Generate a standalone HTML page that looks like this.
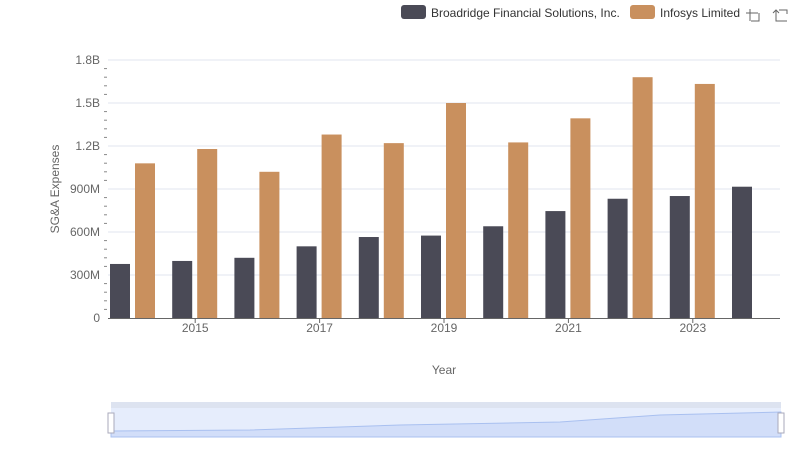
<!DOCTYPE html>
<html><head><meta charset="utf-8"><style>
body{margin:0;background:#fff;font-family:"Liberation Sans",sans-serif}
svg text{font-family:"Liberation Sans",sans-serif}
</style></head><body>
<svg id="chart" width="800" height="461" xmlns="http://www.w3.org/2000/svg">
<g>
<g><rect x="401" y="5" width="25" height="14" rx="3" fill="#4a4a56"/><text x="431" y="17" font-size="12" fill="#333">Broadridge Financial Solutions, Inc.</text></g>
<g><rect x="630" y="5" width="25" height="14" rx="3" fill="#c9905e"/><text x="660" y="17" font-size="12" fill="#333">Infosys Limited</text></g>
</g>
<g stroke="#666" fill="none" stroke-width="1">
<path d="M750 9v12M746 13h12M751 21h8v-8"/>
<path d="M776 10v11h11M779 13l-3-3l-3 3M787 14v-4h-8"/>
</g>
<g id="grid"></g><g id="bars"></g><g id="axes"></g>
<text transform="translate(59,189) rotate(-90)" text-anchor="middle" font-size="12" fill="#666">SG&amp;A Expenses</text>
<text x="444" y="374" text-anchor="middle" font-size="12" fill="#666">Year</text>
<g>
<rect x="111" y="402" width="670" height="6" fill="#dde3f0"/>
<rect x="111" y="408" width="670" height="29" fill="#e6edfc"/>
<path d="M111 431 L250 430 L400 425 L560 422 L660 415 L781 412 L781 437 L111 437Z" fill="#d2def9" stroke="#a9c0f0" stroke-width="1"/>
<rect x="108" y="413" width="6" height="20" fill="#fff" stroke="#aab"/>
<rect x="778" y="413" width="6" height="20" fill="#fff" stroke="#aab"/>
</g>
</svg>
<script>
const years=[2014,2015,2016,2017,2018,2019,2020,2021,2022,2023,2024];
const broadridge=[0.377,0.398,0.42,0.50,0.565,0.575,0.64,0.746,0.832,0.851,0.916];
const infosys=[1.079,1.179,1.02,1.28,1.22,1.50,1.225,1.393,1.68,1.633,null];
const yTicks=[0,0.3,0.6,0.9,1.2,1.5,1.8];
const yTickLabels=["0","300M","600M","900M","1.2B","1.5B","1.8B"];
const NS="http://www.w3.org/2000/svg";
const y=v=>318-v/1.8*258;
const xc=i=>133+62.2*i;
function mk(tag,attrs,parent){const e=document.createElementNS(NS,tag);for(const k in attrs)e.setAttribute(k,attrs[k]);document.getElementById(parent).appendChild(e);return e;}
yTicks.forEach((t,i)=>{
 if(t>0){const g=mk('line',{x1:108,x2:780,y1:y(t),y2:y(t),stroke:'#e0e4ef'},'grid');
 
 }
 const l=mk('text',{x:100,y:y(t)+4,'text-anchor':'end','font-size':12,fill:'#666'},'axes');l.textContent=yTickLabels[i];
 
 
});
for(let v=0.06;v<1.8;v+=0.06){if(Math.abs(v/0.3-Math.round(v/0.3))<0.01)continue;
 const m=mk('line',{x1:104,x2:107,y1:y(v),y2:y(v),stroke:'#888'},'axes');
 
 }
years.forEach((yr,i)=>{
 const c=xc(i);
 const b=mk('rect',{x:c-23,y:y(broadridge[i]),width:20,height:318-y(broadridge[i]),fill:'#4a4a56'},'bars');
 
 
 if(infosys[i]!=null){const o=mk('rect',{x:c+2,y:y(infosys[i]),width:20,height:318-y(infosys[i]),fill:'#c9905e'},'bars');
 
 }
 if(yr%2===1){const t=mk('text',{x:c,y:332,'text-anchor':'middle','font-size':12,fill:'#666'},'axes');t.textContent=yr;
 
 
 const tk=mk('line',{x1:c,x2:c,y1:318,y2:323,stroke:'#666'},'axes');
 
 }
});
const ax=mk('line',{x1:108,x2:780,y1:318.5,y2:318.5,stroke:'#666'},'axes');


</script>
</body></html>
